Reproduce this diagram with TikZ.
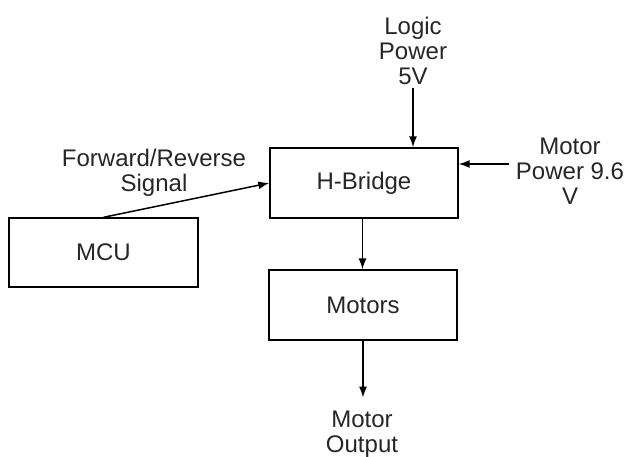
\documentclass[tikz,border=0pt]{standalone}
\usepackage{fontspec}
\setmainfont{Liberation Sans}
\usepackage{tikz}
\usetikzlibrary{arrows.meta,positioning}

\begin{document}
\begin{tikzpicture}[
    x=1pt, y=-1pt,
    >={Latex[length=11pt,width=8pt]},
    every node/.style={font=\fontsize{24}{25}\selectfont, text=black!85},
    blk/.style={
        draw,
        line width=1.4pt,
        align=center,
        minimum width=188pt,
        minimum height=70pt
    },
    lbl/.style={
        align=center,
        inner sep=3pt
    },
    sig/.style={
        ->,
        line width=1.5pt
    }
]
\useasboundingbox (0,0) rectangle (629,457);

\node[blk] (hbridge) at (364,183) {H-Bridge};
\node[blk, minimum width=189pt, minimum height=69pt] (mcu) at (103.5,252.5) {MCU};
\node[blk] (motors) at (363,305) {Motors};

\node[lbl] (logic) at (413,51) {Logic\\Power\\5V};
\node[lbl] (motorpwr) at (570,171) {Motor\\Power 9.6\\V};
\node[lbl] (fwdrev) at (154,173) {Forward/Reverse\\Signal};
\node[lbl] (motorout) at (362,434) {Motor\\Output};

\coordinate (pwrin) at ([yshift=7pt,xshift=-4pt]motorpwr.west);
\coordinate (drive) at ([xshift=-1.5pt]hbridge.south);

\draw[sig] (logic.south) -- (logic.south |- hbridge.north);
\draw[sig] (pwrin) -- (hbridge.east |- pwrin);
\draw[sig] (mcu.north) -- (hbridge.west);
\draw[sig] (drive) -- (drive |- motors.north);
\draw[sig, shorten >=10pt] (motors.south) -- (motors.south |- motorout.north);

\end{tikzpicture}
\end{document}
